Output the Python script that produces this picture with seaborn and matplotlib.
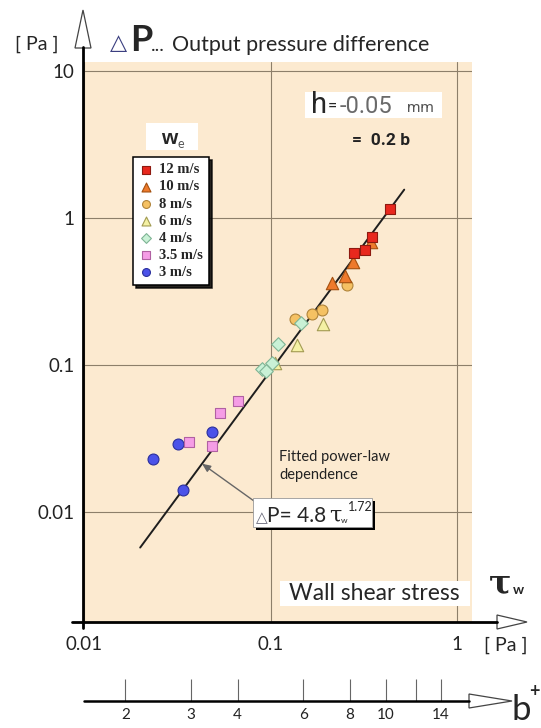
import numpy as np
import matplotlib
matplotlib.use("Agg")
import matplotlib.pyplot as plt
import matplotlib.patheffects as pe
import seaborn as sns
from matplotlib.lines import Line2D
from matplotlib.patches import Polygon, Rectangle

# ---- values ----
speeds = ['12 m/s', '10 m/s', '8 m/s', '6 m/s', '4 m/s', '3.5 m/s', '3 m/s']

tau_12 = [0.437, 0.350, 0.321, 0.280]
dp_12 = [1.15, 0.743, 0.606, 0.578]
tau_10 = [0.346, 0.277, 0.251, 0.214]
dp_10 = [0.687, 0.502, 0.403, 0.361]
tau_8 = [0.257, 0.189, 0.167, 0.135]
dp_8 = [0.350, 0.237, 0.222, 0.206]
tau_6 = [0.191, 0.139, 0.106]
dp_6 = [0.190, 0.137, 0.103]
tau_4 = [0.146, 0.110, 0.102, 0.090, 0.095]
dp_4 = [0.193, 0.139, 0.103, 0.094, 0.091]
tau_35 = [0.0669, 0.0536, 0.0366, 0.0486]
dp_35 = [0.0569, 0.0472, 0.0299, 0.0281]
tau_3 = [0.0486, 0.0319, 0.0234, 0.0340]
dp_3 = [0.0350, 0.0290, 0.0229, 0.0141]

data = {
    '12 m/s': (tau_12, dp_12),
    '10 m/s': (tau_10, dp_10),
    '8 m/s': (tau_8, dp_8),
    '6 m/s': (tau_6, dp_6),
    '4 m/s': (tau_4, dp_4),
    '3.5 m/s': (tau_35, dp_35),
    '3 m/s': (tau_3, dp_3),
}

# fitted power law dP = 4.8 * tau^1.72, drawn over this tau range
fit_coef = 4.8
fit_exp = 1.72
fit_tau_range = [0.020, 0.52]

tau_ticks = [0.01, 0.1, 1]
tau_ticklabels = ['0.01', '0.1', '1']
dp_ticks = [0.01, 0.1, 1, 10]
dp_ticklabels = ['0.01', '0.1', '1', '10']

b_plus_ticks = [2, 3, 4, 6, 8, 10, 12, 14]
b_plus_labels = ['2', '3', '4', '6', '8', '10', '', '14']
tau_at_b10 = 0.416  # wall shear stress where b+ = 10 (b+ ~ sqrt(tau))

# marker, face, edge
styles = {
    '12 m/s': ('s', '#e8281e', '#8e1a10'),
    '10 m/s': ('^', '#ee7a2c', '#a4500f'),
    '8 m/s': ('o', '#f5c163', '#b0843a'),
    '6 m/s': ('^', '#f4f1a4', '#a29b52'),
    '4 m/s': ('D', '#c9f1d6', '#7fb495'),
    '3.5 m/s': ('s', '#f59de6', '#b061a2'),
    '3 m/s': ('o', '#4b52e9', '#2a2f9c'),
}
draw_order = ['3 m/s', '3.5 m/s', '6 m/s', '8 m/s', '4 m/s', '10 m/s', '12 m/s']

# ---- figure ----
sns.set_style("white")
plt.rcParams['font.family'] = ['Lato', 'DejaVu Sans']

W, H = 541, 728
fig = plt.figure(figsize=(W / 100, H / 100), dpi=100)


def fx(px):
    return px / W


def fy(py):
    return 1 - py / H


ax = fig.add_axes([fx(84), fy(622), (472 - 84) / W, (622 - 62) / H])
ax.set_facecolor('#fcead0')
ax.set_xscale('log')
ax.set_yscale('log')

t = np.geomspace(fit_tau_range[0], fit_tau_range[1], 60)
sns.lineplot(x=t, y=fit_coef * t ** fit_exp, color='#1e1e1e', lw=1.4, ax=ax, zorder=2)

for name in draw_order:
    marker, face, edge = styles[name]
    xs, ys = data[name]
    size = 62 if marker in ('s', 'o') else (48 if marker == 'D' else 80)
    sns.scatterplot(x=xs, y=ys, marker=marker, color=face, edgecolor=edge,
                    linewidth=0.8, s=size, ax=ax, zorder=3, label=name)

ax.set_xlim(0.01, 1.2)
ax.set_ylim(0.00179, 11.5)
ax.set_xticks(tau_ticks, tau_ticklabels)
ax.set_yticks(dp_ticks, dp_ticklabels)
ax.minorticks_off()
ax.tick_params(length=0, labelsize=13.5, labelcolor='#222')
ax.tick_params(axis='y', pad=7)
ax.tick_params(axis='x', pad=10)
ax.grid(True, color='#8d7f6a', lw=0.8)
for s in ax.spines.values():
    s.set_visible(False)
ax.set_xlabel('')
ax.set_ylabel('')

# legend
handles, labels = ax.get_legend_handles_labels()
hmap = dict(zip(labels, handles))
leg = ax.legend([hmap[k] for k in speeds], speeds, loc='upper left',
                bbox_to_anchor=(fx(133), fy(157)), bbox_transform=fig.transFigure,
                borderaxespad=0, frameon=True, fancybox=False, edgecolor='black',
                framealpha=1, borderpad=0.42, labelspacing=0.27, handletextpad=0.45,
                handlelength=0.9, markerscale=0.72,
                prop={'family': 'Liberation Serif', 'weight': 'bold', 'size': 10.5},
                shadow={'color': 'black', 'alpha': 0.85})
leg.get_frame().set_linewidth(1.1)

# legend title box "w_e"
fig.add_artist(Rectangle((fx(146), fy(150)), (198 - 146) / W, (150 - 123) / H,
                         transform=fig.transFigure, fc='white', ec='none'))
fig.text(fx(161), fy(144), 'w', fontsize=15, weight='bold', family='Liberation Sans')
fig.text(fx(178), fy(148), 'e', fontsize=9, color='#555')

# b+ scale under the plot
axb = fig.add_axes([fx(84), fy(701), (472 - 84) / W, 1e-4])
axb.set_xscale('log')
axb.set_xlim(0.01, 1.2)
axb.set_xticks([tau_at_b10 * (b / 10) ** 2 for b in b_plus_ticks], b_plus_labels)
axb.minorticks_off()
axb.set_yticks([])
axb.patch.set_alpha(0)
for s in axb.spines.values():
    s.set_visible(False)
axb.tick_params(axis='x', bottom=True, direction='in', length=16, width=0.8,
                color='#666', labelsize=11, pad=5, labelcolor='#222')

# axis lines with open arrow heads
fig.add_artist(Line2D([fx(83), fx(83)], [fy(628), fy(47)], color='black', lw=2))
fig.add_artist(Polygon([(fx(83), fy(10)), (fx(75), fy(48)), (fx(91), fy(48))],
                       closed=True, fc='white', ec='#444', lw=0.9, transform=fig.transFigure))
fig.add_artist(Line2D([fx(72), fx(497)], [fy(622), fy(622)], color='black', lw=2))
fig.add_artist(Polygon([(fx(527), fy(622)), (fx(497), fy(615)), (fx(497), fy(629))],
                       closed=True, fc='white', ec='#444', lw=0.9, transform=fig.transFigure))
fig.add_artist(Line2D([fx(84), fx(469)], [fy(701), fy(701)], color='black', lw=1.8))
fig.add_artist(Polygon([(fx(512), fy(701)), (fx(469), fy(694)), (fx(469), fy(708))],
                       closed=True, fc='white', ec='#444', lw=0.9, transform=fig.transFigure))

# axis titles
fig.text(fx(37), fy(44), '[ Pa ]', ha='center', va='center', fontsize=14)
fig.text(fx(118), fy(43), '△', ha='center', va='center', fontsize=16, color='#3b3f80',
         family='DejaVu Sans')
fig.text(fx(130), fy(51), 'P', fontsize=26, weight='bold', va='baseline')
fig.text(fx(151), fy(51), '...', fontsize=14, va='baseline')
fig.text(fx(172), fy(51), 'Output pressure difference', fontsize=15.5, va='baseline')

fig.add_artist(Rectangle((fx(280), fy(606)), (470 - 280) / W, (606 - 581) / H,
                         transform=fig.transFigure, fc='white', ec='none'))
fig.text(fx(289), fy(594), 'Wall shear stress', fontsize=16.5, va='center')
fig.text(fx(489), fy(593), 'τ', fontsize=24, weight='bold', family='DejaVu Serif',
         va='baseline')
fig.text(fx(513), fy(594), 'w', fontsize=10, weight='bold', va='baseline')
fig.text(fx(506), fy(645), '[ Pa ]', ha='center', va='center', fontsize=14)

fig.text(fx(512), fy(720), 'b', fontsize=25, va='baseline')
fig.text(fx(529), fy(697), '+', fontsize=13, weight='bold', va='baseline')

# h = -0.05 mm note
fig.add_artist(Rectangle((fx(305), fy(118)), (442 - 305) / W, (118 - 92) / H,
                         transform=fig.transFigure, fc='white', ec='none'))
fig.text(fx(311), fy(113), 'h', fontsize=21, family='Roboto', va='baseline')
fig.text(fx(328), fy(111), '=', fontsize=12, family='Roboto', va='baseline')
fig.text(fx(340), fy(113), '-0.05', fontsize=17, family='Roboto', color='#6a6a6a',
         va='baseline')
fig.text(fx(407), fy(112), 'mm', fontsize=11, family='Roboto', color='#555',
         va='baseline')
fig.text(fx(352), fy(145), '=  0.2 b', fontsize=12.5, family='Roboto', weight='bold',
         va='baseline', color='#222')

# fitted power law annotation
fig.text(fx(279), fy(450), 'Fitted power-law\ndependence', fontsize=10.5, va='top',
         linespacing=1.35, color='#222')
tau_mark = 0.0429
ax.annotate('', xy=(tau_mark, fit_coef * tau_mark ** fit_exp),
            xytext=(fx(254), fy(501)), textcoords='figure fraction',
            arrowprops=dict(arrowstyle='-|>,head_length=0.5,head_width=0.22',
                            color='#666', lw=1, mutation_scale=10,
                            shrinkA=0, shrinkB=0), zorder=4)
fig.add_artist(Rectangle((fx(253), fy(527)), (372 - 253) / W, (527 - 498) / H,
                         transform=fig.transFigure, fc='white', ec='#999', lw=0.6,
                         path_effects=[pe.withSimplePatchShadow(offset=(2.5, -2.5),
                                                                shadow_rgbFace='black',
                                                                alpha=1)]))
fig.text(fx(256), fy(522), '△', fontsize=11, color='#667', family='DejaVu Sans',
         va='baseline')
fig.text(fx(267), fy(522), 'P= 4.8', fontsize=15, va='baseline')
fig.text(fx(329), fy(522), 'τ', fontsize=16, family='DejaVu Serif', va='baseline')
fig.text(fx(341), fy(523), 'w', fontsize=6, va='baseline')
fig.text(fx(348), fy(511), '1.72', fontsize=9, va='baseline')

fig.savefig('out.png', dpi=100)
